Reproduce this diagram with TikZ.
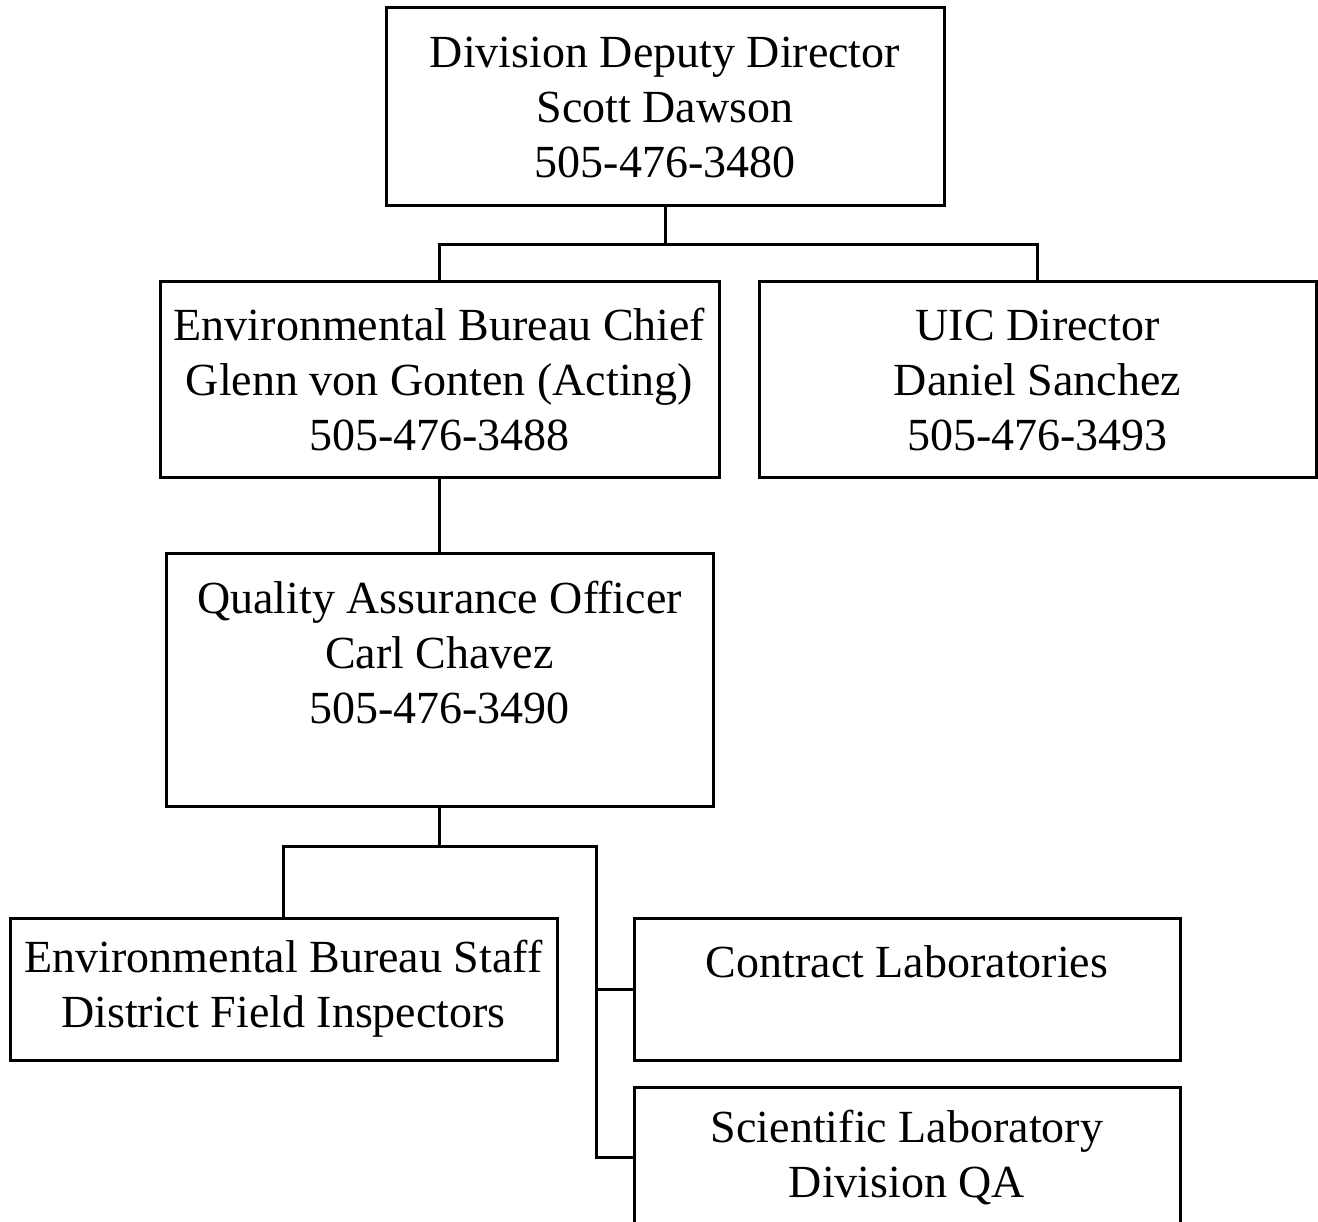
\documentclass[tikz,border=0pt]{standalone}
\usepackage{fontspec}
\setmainfont{Liberation Serif}
\begin{document}
\begin{tikzpicture}[x=1pt,y=-1pt,
  box/.style={draw, line width=3pt, inner sep=0pt, align=center,
    font=\fontsize{46}{55}\selectfont},
  conn/.style={line width=3pt}]
\useasboundingbox (0,0) rectangle (1318,1222);
\node[box, minimum width=558pt, minimum height=198pt] (top) at (665,107)
  {Division Deputy Director\\Scott Dawson\\505-476-3480};
\node[box, minimum width=559pt, minimum height=196pt] (ebc) at (439.5,380)
  {Environmental Bureau Chief\\Glenn von Gonten (Acting)\\505-476-3488};
\node[box, minimum width=557pt, minimum height=196pt] (uic) at (1037.5,380)
  {UIC Director\\Daniel Sanchez\\505-476-3493};
\node[box, minimum width=547pt, minimum height=253pt] (qa) at (439.5,679.5)
  {Quality Assurance Officer\\Carl Chavez\\505-476-3490\\\mbox{}};
\node[box, minimum width=547pt, minimum height=142pt] (ebs) at (283.5,989)
  {Environmental Bureau Staff\\District Field Inspectors};
\node[box, minimum width=546pt, minimum height=142pt] (cl) at (907,989)
  {Contract Laboratories\\\mbox{}};
\node[box, minimum width=546pt, minimum height=141pt] (sld) at (907,1157.5)
  {Scientific Laboratory\\Division QA};
\coordinate (j1) at (664,245);
\coordinate (j2) at (596,846);
\draw[conn] (top.south) -- (top.south |- j1);
\draw[conn] (ebc.north) |- (uic.north |- j1) -- (uic.north);
\draw[conn] (ebc.south) -- (qa.north);
\draw[conn] (qa.south) -- (qa.south |- j2);
\draw[conn] (ebs.north) |- (j2) -- (j2 |- sld.west) -- (sld.west);
\draw[conn] (j2 |- cl.west) -- (cl.west);
\end{tikzpicture}
\end{document}
